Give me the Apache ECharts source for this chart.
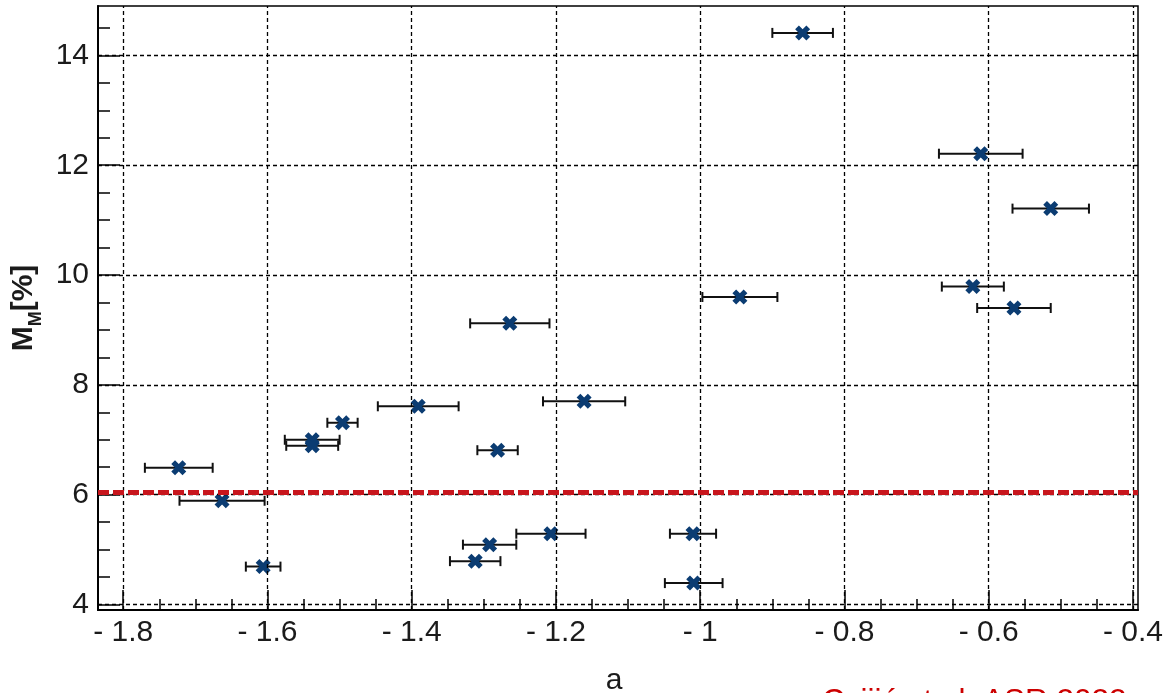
<!DOCTYPE html>
<html>
<head>
<meta charset="utf-8">
<script src="https://cdn.jsdelivr.net/npm/echarts@6/dist/echarts.min.js"></script>
<style>html,body{margin:0;padding:0;background:#fff;}#c{width:1171px;height:693px;}</style>
</head>
<body>
<div id="c"></div>
<script>
// ---- data ----
const aVals  = [-1.723, -1.663, -1.606, -1.538, -1.538, -1.496, -1.391, -1.264, -1.281, -1.312, -1.292, -1.207, -1.161, -1.010, -1.009, -0.945, -0.858, -0.611, -0.622, -0.565, -0.514];
const mmVals = [ 6.49,   5.89,   4.69,   7.00,   6.89,   7.31,   7.61,   9.12,   6.81,   4.79,   5.09,   5.29,   7.70,   5.29,   4.39,   9.60,  14.41,  12.21,   9.79,   9.40,  11.21];
const aErr   = [ 0.047,  0.059,  0.024,  0.038,  0.036,  0.021,  0.056,  0.055,  0.028,  0.035,  0.037,  0.048,  0.057,  0.032,  0.040,  0.052,  0.042,  0.058,  0.043,  0.051,  0.053];
const thresholdMM = 6.04;
const xMajorTicks = [-1.8, -1.6, -1.4, -1.2, -1.0, -0.8, -0.6, -0.4];
const xMinorTicks = [-1.75, -1.7, -1.65, -1.55, -1.5, -1.45, -1.35, -1.3, -1.25, -1.15, -1.1, -1.05, -0.95, -0.9, -0.85, -0.75, -0.7, -0.65, -0.55, -0.5, -0.45];
const yMajorTicks = [4, 6, 8, 10, 12, 14];
const yMinorTicks = [4.5, 5, 5.5, 6.5, 7, 7.5, 8.5, 9, 9.5, 10.5, 11, 11.5, 12.5, 13, 13.5, 14.5];
const xName = 'a';
const creditText = 'Cvijić et al. ASR 2022';

const points = aVals.map((a, i) => [a, mmVals[i], aErr[i]]);

const X_MIN = -1.835, X_MAX = -0.393, Y_MIN = 3.9, Y_MAX = 14.9;
const FONT = '"Liberation Sans", Arial, sans-serif';
const TXT = '#1b1b1b';

const xFmt = v => (v < 0 ? '- ' + String(Math.abs(Math.round(v * 10) / 10)) : String(v));

const chart = echarts.init(document.getElementById('c'), null, {renderer: 'canvas'});
const xMarker = 'path://M0,3.5 L3.5,0 L7,3.5 L10.5,0 L14,3.5 L10.5,7 L14,10.5 L10.5,14 L7,10.5 L3.5,14 L0,10.5 L3.5,7 Z';

chart.setOption({
  animation: false,
  backgroundColor: '#fff',
  grid: {left: 98, right: 33, top: 6, bottom: 83, show: true, borderColor: '#000', borderWidth: 1.5, backgroundColor: 'transparent', outerBoundsMode: 'none', containLabel: false},
  xAxis: [
    {
      type: 'value', min: X_MIN, max: X_MAX, position: 'bottom',
      name: xName, nameLocation: 'middle', nameGap: 56,
      nameTextStyle: {fontFamily: FONT, fontSize: 30, color: TXT, padding: [0, 8, 0, 0]},
      axisLine: {show: true, onZero: false, lineStyle: {color: '#000', width: 2}},
      axisTick: {show: true, inside: true, length: 20, customValues: xMajorTicks, lineStyle: {color: '#000', width: 1.5}},
      axisLabel: {show: true, customValues: xMajorTicks, formatter: xFmt, margin: 8, fontFamily: FONT, fontSize: 30, color: TXT},
      splitLine: {show: false}
    },
    {
      type: 'value', min: X_MIN, max: X_MAX, position: 'bottom',
      axisLine: {show: false, onZero: false},
      axisTick: {show: true, inside: true, length: 11, customValues: xMinorTicks, lineStyle: {color: '#000', width: 1.5}},
      axisLabel: {show: false},
      splitLine: {show: false}
    }
  ],
  yAxis: [
    {
      type: 'value', min: Y_MIN, max: Y_MAX, position: 'left',
      name: '{b|M}{s|M}{b|[%]}', nameLocation: 'middle', nameGap: 52, nameRotate: 90,
      nameTextStyle: {
        rich: {
          b: {fontFamily: FONT, fontSize: 30, fontWeight: 'bold', color: TXT, lineHeight: 34, verticalAlign: 'bottom'},
          s: {fontFamily: FONT, fontSize: 18, fontWeight: 'bold', color: TXT, lineHeight: 34, verticalAlign: 'bottom', padding: [0, 0, -6, 0]}
        }
      },
      axisLine: {show: true, onZero: false, lineStyle: {color: '#000', width: 2}},
      axisTick: {show: true, inside: true, length: 22, customValues: yMajorTicks, lineStyle: {color: '#000', width: 1.5}},
      axisLabel: {show: true, customValues: yMajorTicks, margin: 9, fontFamily: FONT, fontSize: 30, color: TXT},
      splitLine: {show: false}
    },
    {
      type: 'value', min: Y_MIN, max: Y_MAX, position: 'left',
      axisLine: {show: false, onZero: false},
      axisTick: {show: true, inside: true, length: 12, customValues: yMinorTicks, lineStyle: {color: '#000', width: 1.5}},
      axisLabel: {show: false},
      splitLine: {show: false}
    }
  ],
  series: [
    {
      type: 'scatter', xAxisIndex: 0, yAxisIndex: 0, data: [], z: 1, silent: true,
      markLine: {
        silent: true, symbol: 'none', label: {show: false}, animation: false,
        lineStyle: {color: '#000', width: 1.3, type: [4, 3]},
        emphasis: {disabled: true},
        data: xMajorTicks.map(v => ({xAxis: v})).concat(yMajorTicks.map(v => ({yAxis: v})))
      }
    },
    {
      type: 'scatter', xAxisIndex: 0, yAxisIndex: 0, data: [], z: 2, silent: true,
      markLine: {
        silent: true, symbol: 'none', label: {show: false}, animation: false,
        lineStyle: {color: '#c8161d', width: 5, type: [11, 4], opacity: 1},
        emphasis: {disabled: true},
        data: [{yAxis: thresholdMM}]
      }
    },
    {
      type: 'custom', xAxisIndex: 0, yAxisIndex: 0, z: 3, silent: true,
      data: points,
      encode: {x: 0, y: 1},
      renderItem: function (params, api) {
        const x = api.value(0), y = api.value(1), e = api.value(2);
        const p1 = api.coord([x - e, y]);
        const p2 = api.coord([x + e, y]);
        const st = {stroke: '#111', lineWidth: 2};
        const cap = 5;
        return {
          type: 'group',
          children: [
            {type: 'line', shape: {x1: p1[0], y1: p1[1], x2: p2[0], y2: p2[1]}, style: st},
            {type: 'line', shape: {x1: p1[0], y1: p1[1] - cap, x2: p1[0], y2: p1[1] + cap}, style: st},
            {type: 'line', shape: {x1: p2[0], y1: p2[1] - cap, x2: p2[0], y2: p2[1] + cap}, style: st}
          ]
        };
      }
    },
    {
      type: 'scatter', xAxisIndex: 0, yAxisIndex: 0, z: 4, silent: true,
      data: points.map(p => [p[0], p[1]]),
      symbol: xMarker, symbolSize: 15,
      itemStyle: {color: '#0b3c72', opacity: 1}
    }
  ],
  graphic: [
    {
      type: 'text', left: 822, top: 686, silent: true,
      style: {text: creditText, fontFamily: FONT, fontSize: 31.5, fill: '#cc0000'}
    }
  ]
});
</script>
</body>
</html>
